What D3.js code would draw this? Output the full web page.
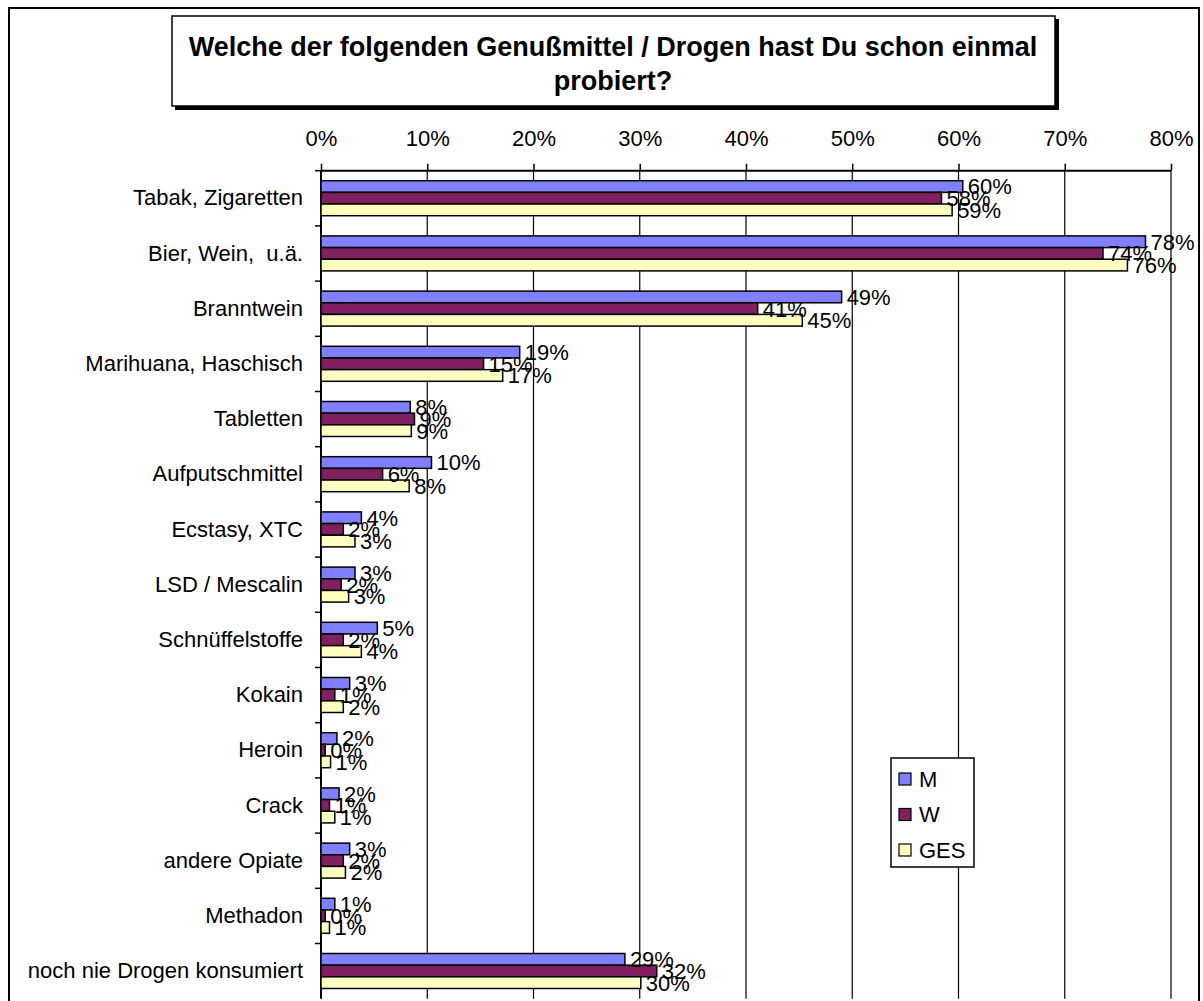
<!DOCTYPE html>
<html><head><meta charset="utf-8">
<script src="https://cdn.jsdelivr.net/npm/d3@7"></script>
<style>
body{margin:0;background:#fff;}
text{font-family:Arial,"Liberation Sans",sans-serif;}
</style></head>
<body>
<svg id="c" width="1203" height="1001"></svg>
<script>
const categories = ["Tabak, Zigaretten","Bier, Wein,  u.ä.","Branntwein","Marihuana, Haschisch","Tabletten","Aufputschmittel","Ecstasy, XTC","LSD / Mescalin","Schnüffelstoffe","Kokain","Heroin","Crack","andere Opiate","Methadon","noch nie Drogen konsumiert"];
const seriesNames = ["M","W","GES"];
const valuesM   = [60.4,77.6,49.0,18.7,8.4,10.4,3.8,3.2,5.3,2.7,1.5,1.7,2.7,1.3,28.6];
const valuesW   = [58.4,73.6,41.1,15.3,8.8,5.8,2.1,1.9,2.1,1.3,0.4,0.8,2.1,0.4,31.6];
const valuesGES = [59.4,75.9,45.3,17.1,8.5,8.3,3.2,2.6,3.8,2.1,0.9,1.3,2.3,0.8,30.1];
const tickValues = [0,10,20,30,40,50,60,70,80];
const titleLines = ["Welche der folgenden Genußmittel / Drogen hast Du schon einmal","probiert?"];

const colors = {M:"#8080FF", W:"#802060", GES:"#FFFFC0"};
const series = {M:valuesM, W:valuesW, GES:valuesGES};

const svg = d3.select("#c");
// outer frame
svg.append("rect").attr("x",9).attr("y",8).attr("width",1190).attr("height",1010)
  .attr("fill","#fff").attr("stroke","#000").attr("stroke-width",2);

// title box with shadow
svg.append("rect").attr("x",175).attr("y",19).attr("width",884).attr("height",91).attr("fill","#000");
svg.append("rect").attr("x",172).attr("y",16).attr("width",883).attr("height",90)
  .attr("fill","#fff").attr("stroke","#000").attr("stroke-width",1.5);
titleLines.forEach((t,i)=>{
  svg.append("text").attr("x",613).attr("y",56+i*34).attr("text-anchor","middle")
    .attr("font-size",27).attr("font-weight","bold").text(t);
});

const x = d3.scaleLinear().domain([0,80]).range([321,1171]);
const y = d3.scaleBand().domain(categories).range([170.7,998.7]).padding(0);
const yi = d3.scaleBand().domain(seriesNames).range([10,45]).padding(0);

// gridlines
svg.append("g").selectAll("line").data(tickValues.slice(1)).join("line")
  .attr("x1",d=>x(d)).attr("x2",d=>x(d)).attr("y1",170.7).attr("y2",998.7)
  .attr("stroke","#000").attr("stroke-width",1.2);

// top axis
const xAxis = d3.axisTop(x).tickValues(tickValues).tickFormat(d=>d+"%").tickSize(7).tickPadding(18);
const gx = svg.append("g").attr("transform","translate(0,170.7)").call(xAxis);
gx.select(".domain").attr("stroke","#000").attr("stroke-width",2).attr("d",`M${x(0)},0H${x(80)}`);
gx.selectAll(".tick line").attr("stroke","#000").attr("stroke-width",1.5);
gx.selectAll(".tick text").attr("font-size",22).attr("font-family","Arial,'Liberation Sans',sans-serif").attr("fill","#000");

// left axis
const yAxis = d3.axisLeft(y).tickSize(0).tickPadding(18);
const gy = svg.append("g").attr("transform",`translate(${x(0)},0)`).call(yAxis);
gy.select(".domain").attr("stroke","#000").attr("stroke-width",2).attr("d","M0,170.7V998.7");
gy.selectAll(".tick text").attr("font-size",22).attr("font-family","Arial,'Liberation Sans',sans-serif")
  .attr("fill","#000").style("white-space","pre");
// category boundary ticks
svg.append("g").selectAll("line").data(categories).join("line")
  .attr("x1",x(0)-6).attr("x2",x(0)).attr("y1",d=>y(d)).attr("y2",d=>y(d))
  .attr("stroke","#000").attr("stroke-width",1.5);

// bars
const flat = [];
categories.forEach((c,i)=>seriesNames.forEach(s=>flat.push({c,s,v:series[s][i]})));
svg.append("g").selectAll("rect").data(flat).join("rect")
  .attr("x",x(0)).attr("y",d=>y(d.c)+yi(d.s))
  .attr("width",d=>x(d.v)-x(0)).attr("height",yi.bandwidth())
  .attr("fill",d=>colors[d.s]).attr("stroke","#000").attr("stroke-width",1.5);

// value labels
svg.append("g").selectAll("text").data(flat).join("text")
  .attr("x",d=>x(d.v)+5).attr("y",d=>y(d.c)+yi(d.s)+yi.bandwidth()/2)
  .attr("dy","0.36em").attr("font-size",22).attr("fill","#000")
  .text(d=>Math.round(d.v)+"%");

// legend
const lg = svg.append("g");
lg.append("rect").attr("x",891).attr("y",758).attr("width",83).attr("height",109)
  .attr("fill","#fff").attr("stroke","#000").attr("stroke-width",1.5);
seriesNames.forEach((s,i)=>{
  const cy = 779 + i*35.5;
  lg.append("rect").attr("x",899).attr("y",cy-6).attr("width",12).attr("height",12)
    .attr("fill",colors[s]).attr("stroke","#000").attr("stroke-width",1.2);
  lg.append("text").attr("x",919).attr("y",cy).attr("dy","0.36em").attr("font-size",22).text(s);
});
</script>
</body></html>
